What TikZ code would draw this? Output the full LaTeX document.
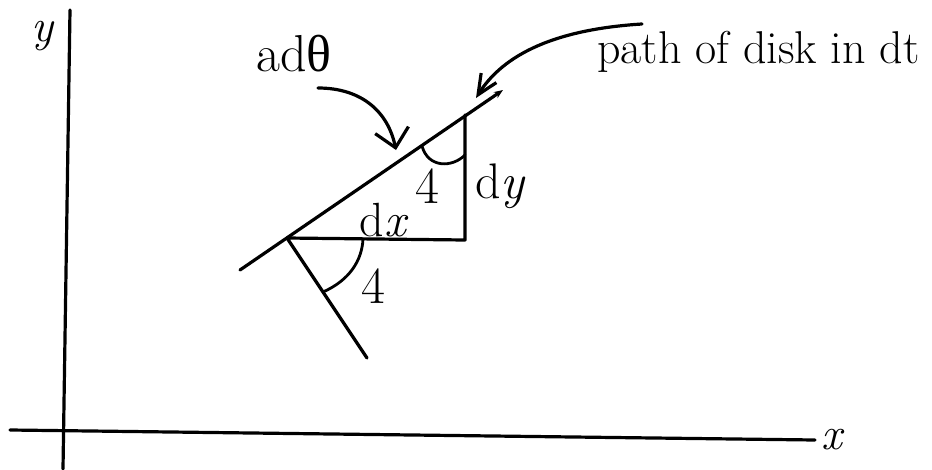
\documentclass[tikz,border=0pt]{standalone}
\usepackage{fontspec}
\newfontfamily\grk{Liberation Serif}
\usetikzlibrary{arrows.meta}
\begin{document}
\begin{tikzpicture}[x=1pt,y=-1pt,
  stroke/.style={line width=3.2pt, line cap=round, line join=round},
  arcstroke/.style={line width=2.8pt, line cap=round},
  lbl/.style={inner sep=0pt, font=\fontsize{#1}{#1}\selectfont},
  lbl/.default=48,
]
\useasboundingbox (0,0) rectangle (932,469);
% axes
\coordinate (ytop) at (70,10);
\coordinate (ybot) at (63,469);
\coordinate (xl) at (10,430);
\coordinate (xr) at (815,440);
\draw[stroke] (ytop) -- (ybot);
\draw[stroke] (xl) -- (xr);
\node[lbl=46] (ylab) at (42,36) {\itshape y};
\node[lbl=46] (xlab) at (832,440) {\itshape x};
% path line and triangle
\coordinate (A) at (287,238);
\coordinate (B) at (465,115);
\coordinate (C) at (465,240);
\coordinate (P1) at (240,270);
\coordinate (P2) at (503,90);
\coordinate (N) at (367,358);
\draw[stroke, -{Stealth[length=9pt,width=7pt]}] (P1) -- (P2);
\draw[stroke] (B) -- (C) -- (A) -- (N);
% angle arcs
\coordinate (u1) at (422,146);
\coordinate (u2) at (465,155);
\draw[arcstroke] (u1) .. controls (428,168) and (452,168) .. (u2);
\coordinate (l1) at (363,239);
\coordinate (l2) at (323,292);
\draw[arcstroke] (l1) .. controls (362,260) and (350,280) .. (l2);
% labels
\node[lbl=52] (psi1) at (427,186) {4};
\node[lbl=52] (psi2) at (373,286) {4};
\node[lbl=50] (dy) at (500,186) {d\itshape y};
\node[lbl=48] (dx) at (383,220) {d\itshape x};
\node[lbl=52] (adt) at (294,54) {ad{\grk θ}};
\node[lbl=46, anchor=west] (path) at (597,52) {path of disk in dt};
% curved arrows
\coordinate (a1) at (318,88);
\coordinate (a2) at (396,150);
\draw[stroke, -{Straight Barb[length=18pt,width=34pt]}] (a1) .. controls (362,88) and (388,112) .. (a2);
\coordinate (b1) at (642,24);
\coordinate (b2) at (476,98);
\draw[stroke, -{Straight Barb[length=20pt,width=18pt]}] (b1) .. controls (545,30) and (500,60) .. (b2);
\end{tikzpicture}
\end{document}
